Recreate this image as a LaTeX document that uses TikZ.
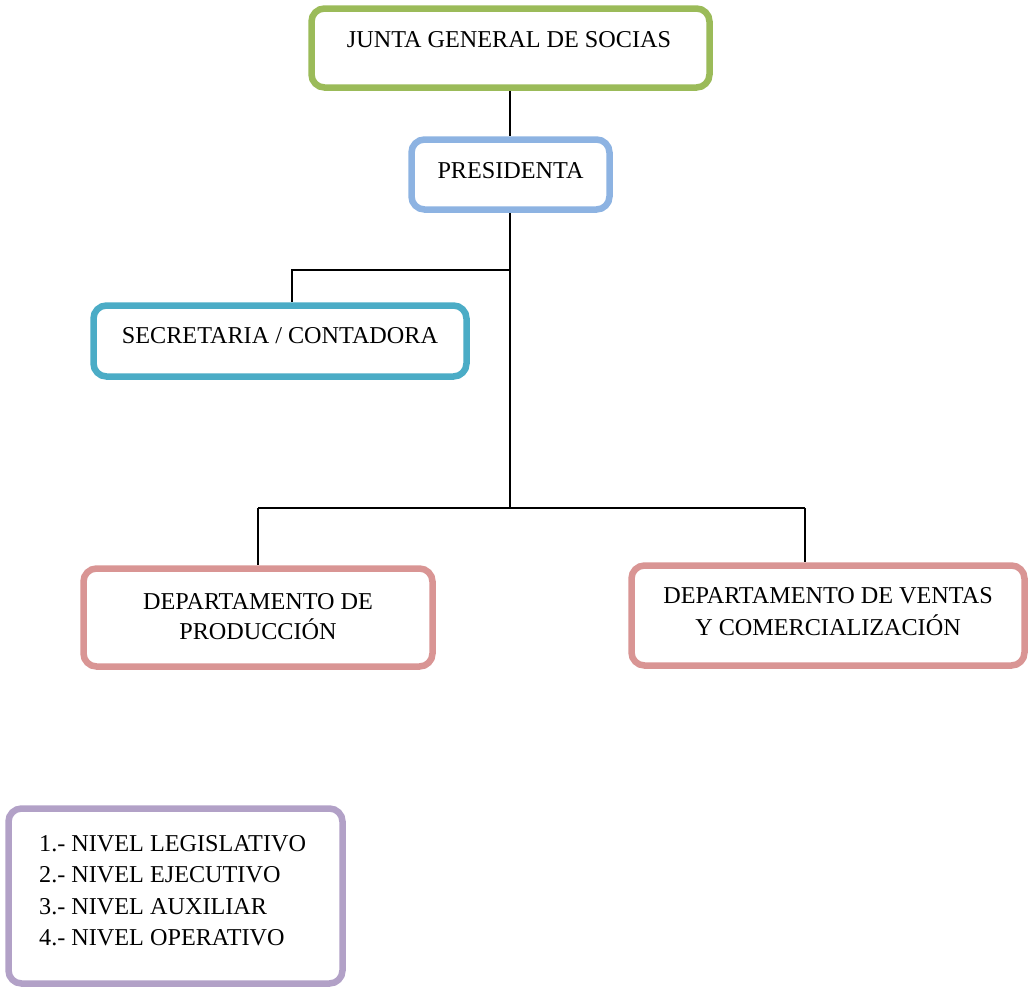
\documentclass[tikz,border=0pt]{standalone}
\usepackage{fontspec}
\setmainfont{Liberation Serif}
\definecolor{cgreen}{HTML}{9BBB59}
\definecolor{cblue}{HTML}{8DB3E2}
\definecolor{cteal}{HTML}{4BACC6}
\definecolor{crose}{HTML}{D99594}
\definecolor{cpurple}{HTML}{B2A1C7}
\tikzset{
  orgbox/.style={draw=#1, line width=6.5pt, rounded corners=13pt, fill=white, inner sep=0pt},
  orgtext/.style={anchor=base, inner sep=0pt, font=\fontsize{24.2}{31}\selectfont},
  legtext/.style={anchor=base west, inner sep=0pt, font=\fontsize{24.2}{31}\selectfont},
  link/.style={line width=2pt, draw=black}
}
\begin{document}
\begin{tikzpicture}[x=1pt, y=-1pt]
\useasboundingbox (0,0) rectangle (1031,988);

% boxes
\node[orgbox=cgreen, minimum width=398pt, minimum height=79pt] (junta) at (510.5,48) {};
\node[orgbox=cblue, minimum width=198pt, minimum height=70pt] (pres) at (510.5,174.5) {};
\node[orgbox=cteal, minimum width=373pt, minimum height=71pt] (sec) at (280,341) {};
\node[orgbox=crose, minimum width=349pt, minimum height=98pt] (prod) at (258,617.5) {};
\node[orgbox=crose, minimum width=393pt, minimum height=100pt] (vent) at (828,615.5) {};
\node[orgbox=cpurple, minimum width=334pt, minimum height=175pt] (leg) at (175.5,896) {};

% labels
\node[orgtext] (tjunta) at (509,47) {JUNTA GENERAL DE SOCIAS};
\node[orgtext] (tpres) at (510.5,178) {PRESIDENTA};
\node[orgtext] (tsec) at (280,343) {SECRETARIA / CONTADORA};
\node[orgtext] (tprodA) at (258,609) {DEPARTAMENTO DE};
\node[orgtext] (tprodB) at (258,639) {PRODUCCIÓN};
\node[orgtext] (tventA) at (828,603) {DEPARTAMENTO DE VENTAS};
\node[orgtext] (tventB) at (828,635) {Y COMERCIALIZACIÓN};
\node[legtext] (l1) at (39,851) {1.- NIVEL LEGISLATIVO};
\node[legtext] (l2) at (39,882) {2.- NIVEL EJECUTIVO};
\node[legtext] (l3) at (39,914) {3.- NIVEL AUXILIAR};
\node[legtext] (l4) at (39,945) {4.- NIVEL OPERATIVO};

% junction points of the connectors
\coordinate (secjoin) at (292,270);
\coordinate (bus) at (510,508);
\coordinate (prodjoin) at (258,508);
\coordinate (ventjoin) at (805,508);

% connectors
\draw[link] (junta.south -| bus) -- (pres.north -| bus);
\draw[link] (pres.south -| bus) -- (bus);
\draw[link] (secjoin -| bus) -- (secjoin) -- (secjoin |- sec.north);
\draw[link] (prodjoin) -- (ventjoin);
\draw[link] (prodjoin) -- (prodjoin |- prod.north);
\draw[link] (ventjoin) -- (ventjoin |- vent.north);
\end{tikzpicture}
\end{document}
